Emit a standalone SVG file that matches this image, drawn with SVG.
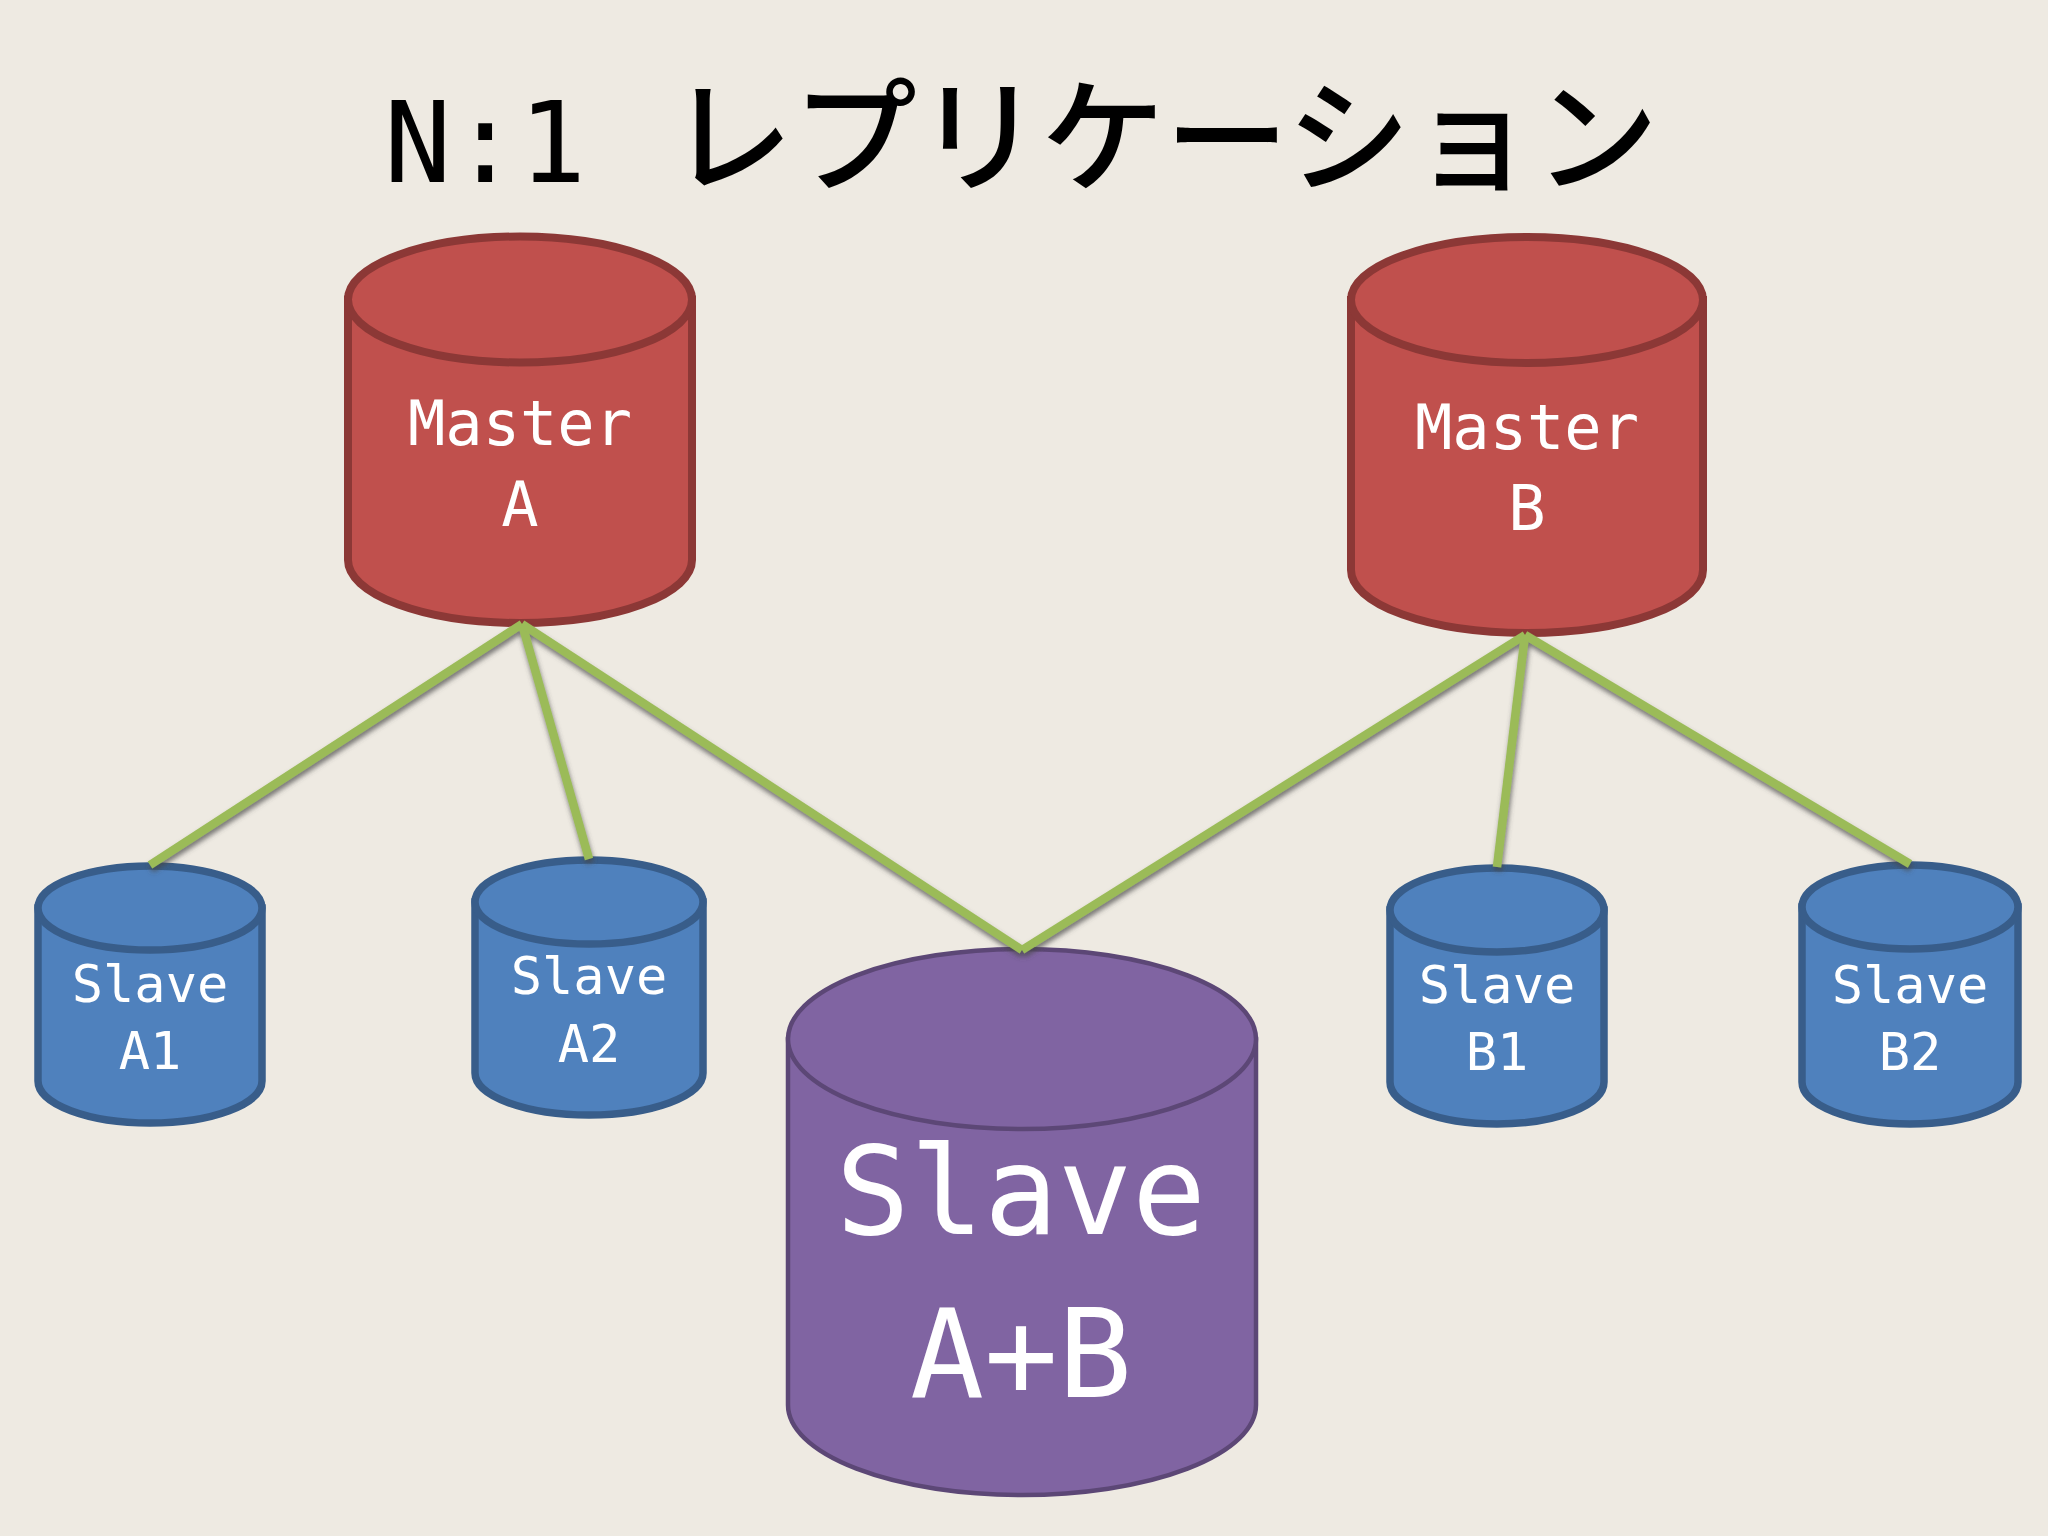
<svg xmlns="http://www.w3.org/2000/svg" width="2048" height="1536" viewBox="0 0 2048 1536">
<defs>
<style>
.bg{fill:#EEEAE2}
.red{fill:#C0504D;stroke:#8C3836;stroke-width:8}
.blue{fill:#4F81BD;stroke:#385D8A;stroke-width:7.5}
.purple{fill:#8064A2;stroke:#5C4776;stroke-width:4.5}
.lbl{fill:#FFFFFF;font-family:"DejaVu Sans Mono","Liberation Mono",monospace;text-anchor:middle}
.m{font-size:62px}
.s{font-size:52px}
.b{font-size:123px}
.conn{stroke:#9BBB59;stroke-width:8.5;fill:none;stroke-linecap:butt;stroke-linejoin:miter}
</style>
<filter id="sh" x="-20%" y="-20%" width="140%" height="140%">
<feDropShadow dx="1" dy="4" stdDeviation="2.5" flood-color="#444444" flood-opacity="0.7"/>
</filter>
</defs>
<rect class="bg" x="0" y="0" width="2048" height="1536"/>

<g id="title">
<text y="182" fill="#000000"><tspan x="384" font-family="'DejaVu Sans Mono','Liberation Mono',monospace" font-size="112">N:1</tspan><tspan x="669" font-family="'Noto Sans CJK JP','Noto Sans CJK SC',sans-serif" font-size="124" font-weight="500">レプリケーション</tspan></text>
</g>

<g id="master-a">
<path class="red" d="M348,299.5 L348,560 A172,63 0 0 0 692,560 L692,299.5 Z"/>
<ellipse class="red" cx="520" cy="299.5" rx="172" ry="63"/>
<text class="lbl m" x="520" y="445">Master</text>
<text class="lbl m" x="520" y="526">A</text>
</g>

<g id="master-b">
<path class="red" d="M1351,300 L1351,570 A176,63 0 0 0 1703,570 L1703,300 Z"/>
<ellipse class="red" cx="1527" cy="300" rx="176" ry="63"/>
<text class="lbl m" x="1527" y="449">Master</text>
<text class="lbl m" x="1527" y="530">B</text>
</g>

<g id="slave-a1">
<path class="blue" d="M38,908 L38,1081 A112,42 0 0 0 262,1081 L262,908 Z"/>
<ellipse class="blue" cx="150" cy="908" rx="112" ry="42"/>
<text class="lbl s" x="150" y="1002">Slave</text>
<text class="lbl s" x="150" y="1069">A1</text>
</g>

<g id="slave-a2">
<path class="blue" d="M475,902 L475,1073 A114,42 0 0 0 703,1073 L703,902 Z"/>
<ellipse class="blue" cx="589" cy="902" rx="114" ry="42"/>
<text class="lbl s" x="589" y="994">Slave</text>
<text class="lbl s" x="589" y="1062">A2</text>
</g>

<g id="slave-b1">
<path class="blue" d="M1390,910 L1390,1082 A107,42 0 0 0 1604,1082 L1604,910 Z"/>
<ellipse class="blue" cx="1497" cy="910" rx="107" ry="42"/>
<text class="lbl s" x="1497" y="1003">Slave</text>
<text class="lbl s" x="1497" y="1070">B1</text>
</g>

<g id="slave-b2">
<path class="blue" d="M1802,907 L1802,1082 A108,42 0 0 0 2018,1082 L2018,907 Z"/>
<ellipse class="blue" cx="1910" cy="907" rx="108" ry="42"/>
<text class="lbl s" x="1910" y="1003">Slave</text>
<text class="lbl s" x="1910" y="1070">B2</text>
</g>

<g id="slave-ab">
<path class="purple" d="M788,1039 L788,1405 A234,90 0 0 0 1256,1405 L1256,1039 Z"/>
<ellipse class="purple" cx="1022" cy="1039" rx="234" ry="90"/>
<text class="lbl b" x="1021" y="1234">Slave</text>
<text class="lbl b" x="1021" y="1397">A+B</text>
</g>

<g id="connectors" filter="url(#sh)">
<line class="conn" x1="522" y1="624" x2="150" y2="865"/>
<line class="conn" x1="522" y1="624" x2="589" y2="859"/>
<line class="conn" x1="522" y1="624" x2="1022" y2="950"/>
<line class="conn" x1="1525" y1="635" x2="1022" y2="950"/>
<line class="conn" x1="1525" y1="635" x2="1497" y2="867"/>
<line class="conn" x1="1525" y1="635" x2="1910" y2="864"/>
</g>
</svg>
